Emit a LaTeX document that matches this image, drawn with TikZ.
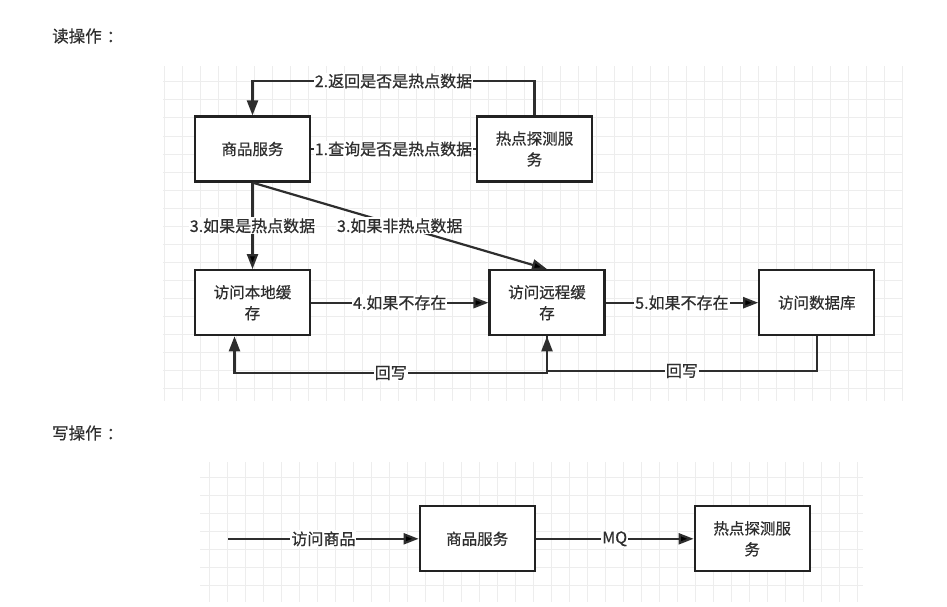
\documentclass[tikz,border=0pt]{standalone}
\usepackage{fontspec}
\newfontfamily\cjkfont[FakeBold=0.6]{Noto Sans CJK SC}
\usetikzlibrary{positioning, arrows.meta}
\definecolor{inkc}{HTML}{2E2E2E}
\definecolor{edgec}{HTML}{222222}
\definecolor{gridc}{HTML}{EDEDED}

\begin{document}
\begin{tikzpicture}[x=1pt,y=-1pt,on grid,
  >={Triangle[length=15pt,width=11pt]},
  box/.style={draw=edgec,line width=2.2pt,fill=white,minimum width=115pt,
    minimum height=65pt,inner sep=0pt,align=center,text=inkc,
    font=\cjkfont\fontsize{15.5}{21}\selectfont},
  lbl/.style={fill=white,inner sep=1pt,text=inkc,
    font=\cjkfont\fontsize{16}{18}\selectfont},
  flow/.style={line width=2.2pt,draw=inkc},
  gridline/.style={draw=gridc,line width=1pt},
  heading/.style={anchor=west,inner sep=0pt,text=inkc,
    font=\cjkfont\fontsize{16.5}{20}\selectfont}]
\useasboundingbox (0,0) rectangle (947,607);

% grids
\foreach \gx in {164,182,...,902} \draw[gridline] (\gx,66) -- (\gx,401);
\foreach \gy in {82,100,...,388} \draw[gridline] (163,\gy) -- (902,\gy);
\foreach \gx in {209,227,...,857} \draw[gridline] (\gx,462) -- (\gx,602);
\foreach \gy in {477,495,...,585} \draw[gridline] (200,\gy) -- (863,\gy);

\node[heading] (readT) at (52,36) {读操作\hspace{5pt}：};
\node[heading] (writeT) at (52,433) {写操作\hspace{5pt}：};

% read
\node[box] (svcR) at (252.5,149) {商品服务};
\node[box] (hotR) [right=282pt of svcR] {热点探测服\\务};
\node[box] (localR) [below=153.7pt of svcR] {访问本地缓\\存};
\node[box] (remoteR) [right=294.5pt of localR] {访问远程缓\\存};
\node[box] (dbR) [right=269.8pt of remoteR] {访问数据库};

\path[flow]
(svcR) edge node[lbl] {1.查询是否是热点数据} (hotR)
(svcR.south) edge[->] node[lbl] {3.如果是热点数据} (localR.north)
             edge[->] node[lbl] {3.如果非热点数据} (remoteR.north)
(localR) edge[->] node[lbl] {4.如果不存在} (remoteR)
(remoteR) edge[->] node[lbl] {5.如果不存在} (dbR);

\draw[flow,->] (hotR.north) -- (hotR.north |- 0,81)
  -- node[lbl] {2.返回是否是热点数据} (svcR.north |- 0,81) -- (svcR.north);
\draw[flow,->] (dbR.south) -- (dbR.south |- 0,371)
  -- node[lbl] {回写} (remoteR.south |- 0,371) -- (remoteR.south);
\draw[flow,->] (remoteR.south) -- (remoteR.south |- 0,373)
  -- node[lbl] {回写} ([xshift=-18pt]localR.south |- 0,373)
  -- ([xshift=-18pt]localR.south);

% write
\node[box] (svcW) at (477.2,538.8) {商品服务};
\node[box] (hotW) [right=275pt of svcW] {热点探测服\\务};
\coordinate (entry) at (228.3,538.8);

\path[flow]
(entry) edge[->] node[lbl] {访问商品} (svcW)
(svcW) edge[->] node[lbl] {MQ} (hotW);
\end{tikzpicture}
\end{document}
